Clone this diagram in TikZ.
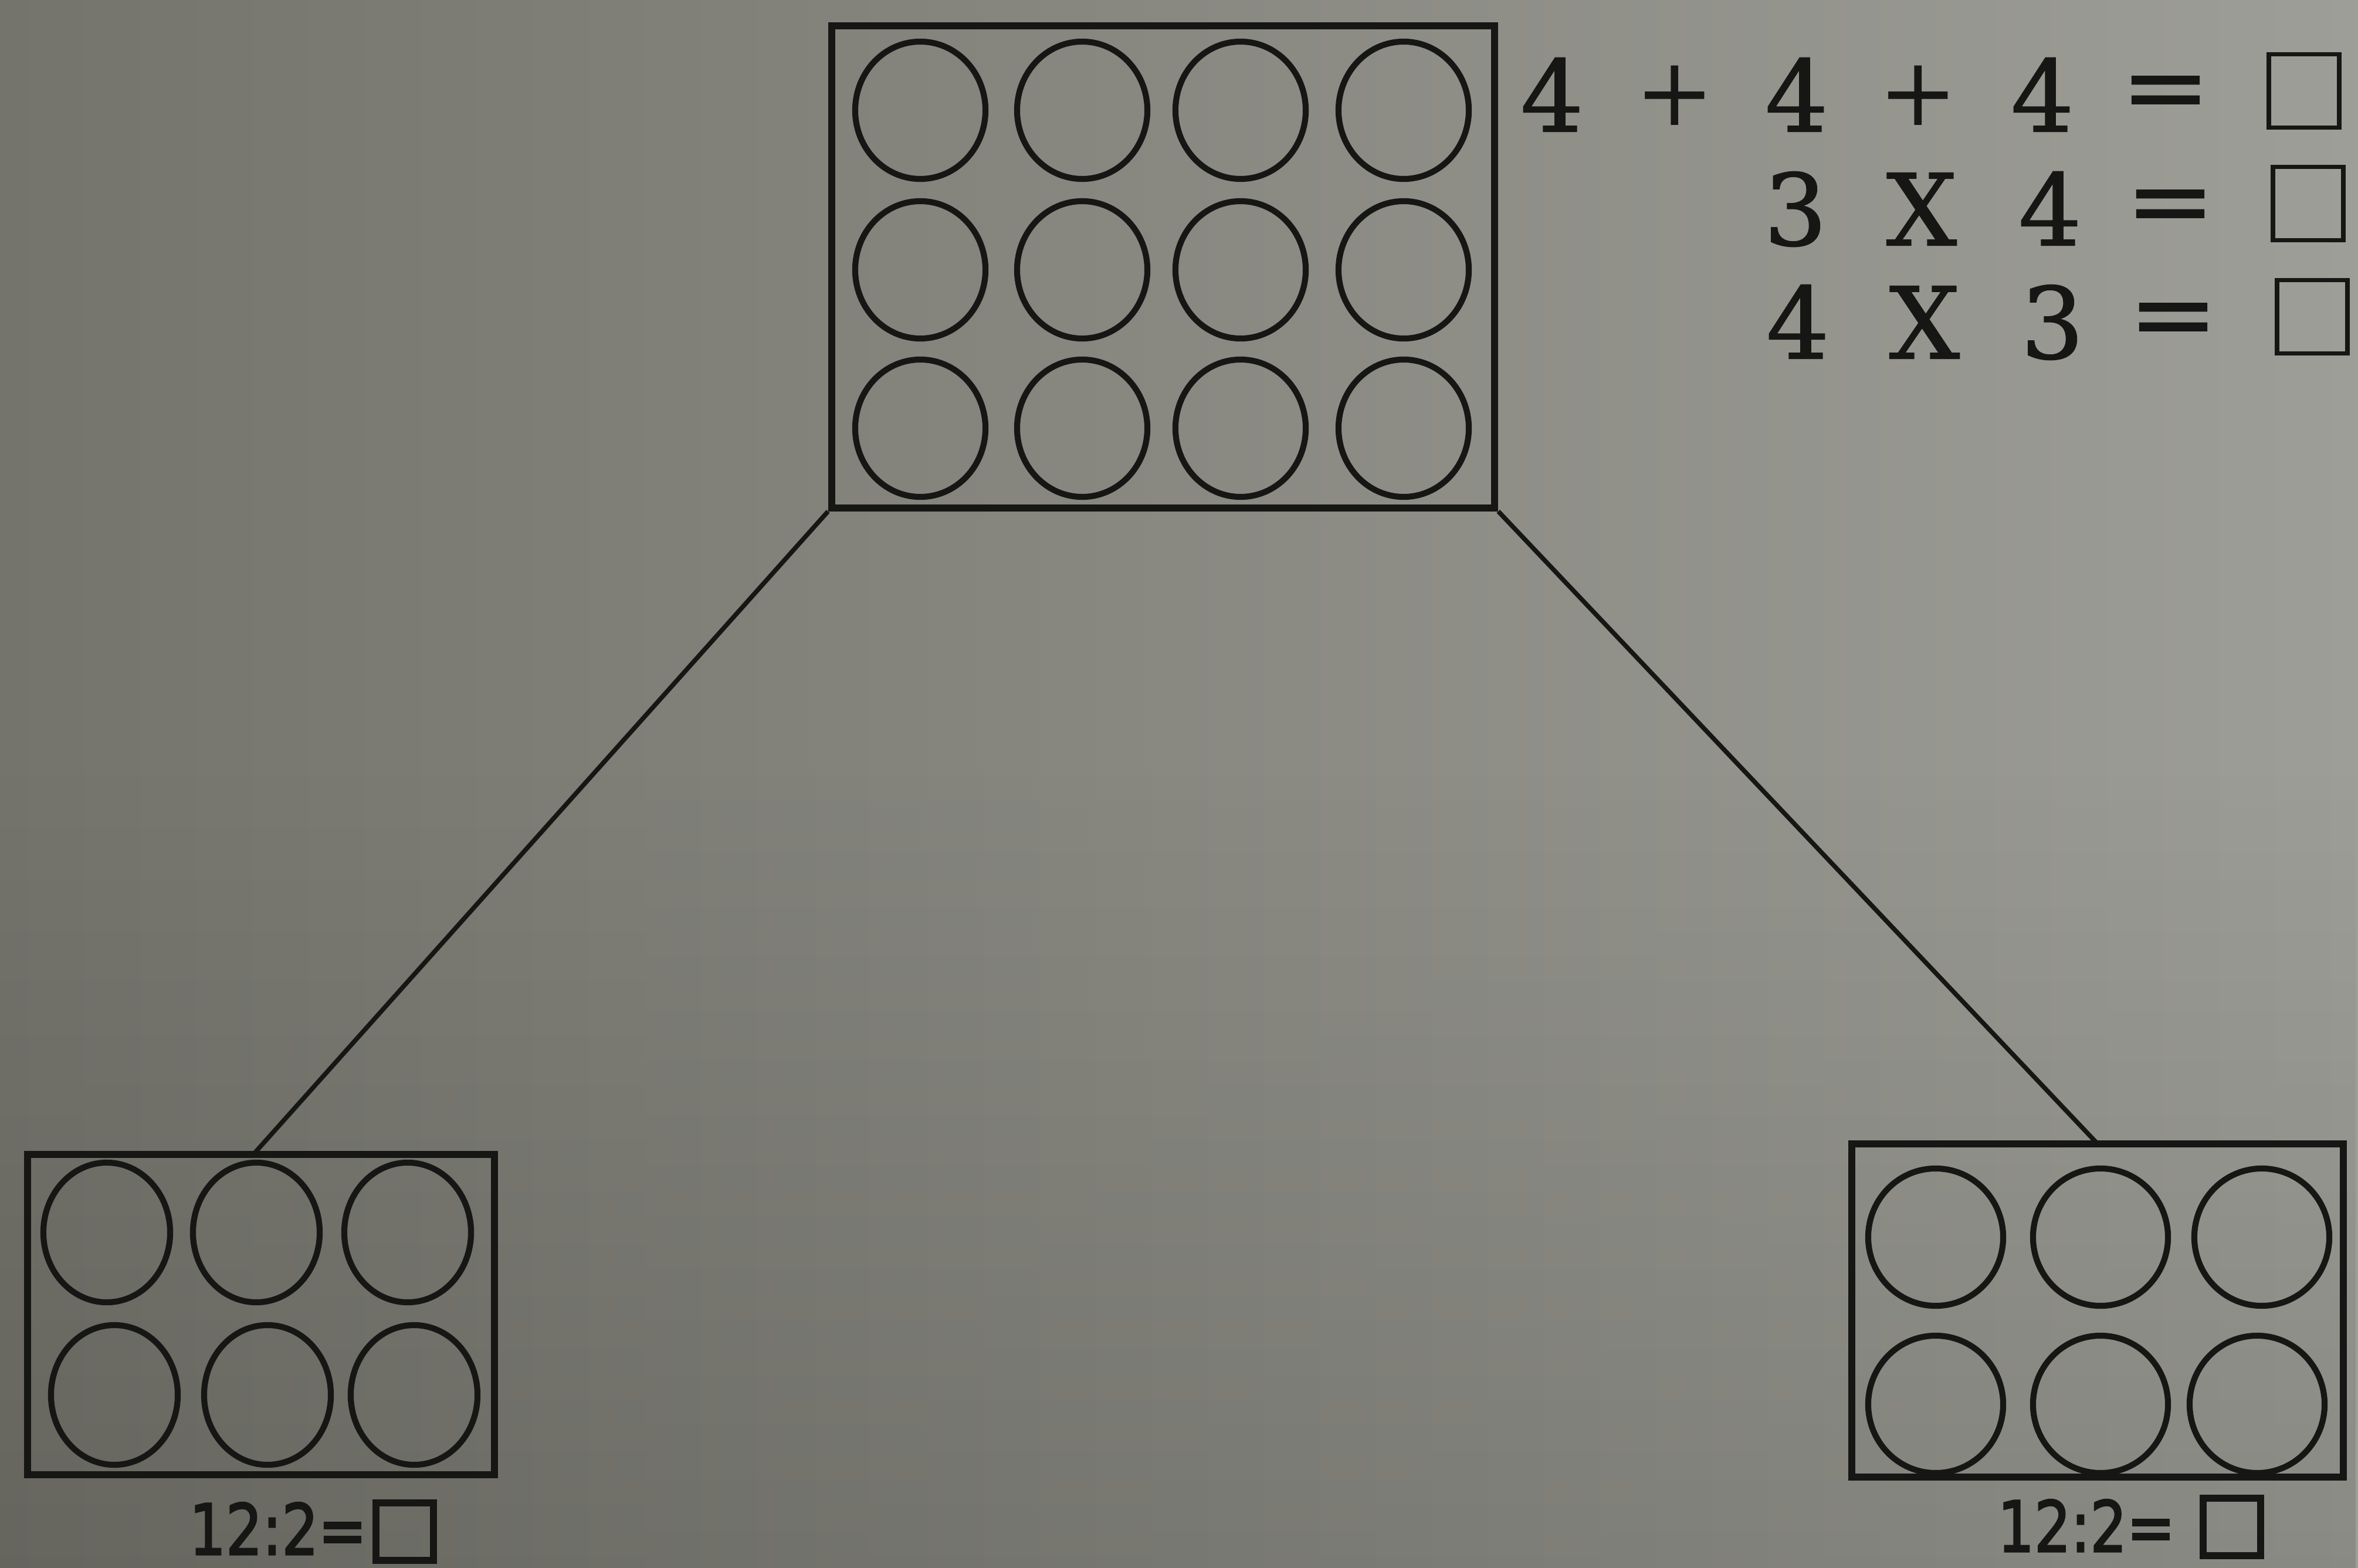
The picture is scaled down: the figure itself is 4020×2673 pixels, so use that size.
\documentclass[tikz,border=0pt]{standalone}
\usepackage{fontspec}
\newfontfamily\eqfont{DejaVu Serif}[FakeBold=1.2]
\newfontfamily\plusfont{DejaVu Serif}
\newfontfamily\handfont{DejaVu Sans}[FakeBold=2.5]
\usetikzlibrary{fadings}
\definecolor{bgL}{RGB}{116,116,108}
\definecolor{bgR}{RGB}{158,158,152}
\definecolor{ink}{RGB}{22,22,20}
\newcommand{\upeq}{\raisebox{5pt}{\scalebox{1.08}[1]{=}}}
\begin{document}
\begin{tikzpicture}[x=0.01cm,y=-0.01cm,
  tray/.style={draw=ink, rectangle, inner sep=0pt, line width=3.4pt},
  dot/.style={draw=ink, line width=2.9pt},
  link/.style={draw=ink, line width=2.2pt},
  eq/.style={anchor=base, inner sep=0pt, font=\eqfont\fontsize{48}{48}\selectfont, text=ink},
  pl/.style={anchor=base, inner sep=0pt, font=\plusfont\fontsize{46}{46}\selectfont, text=ink},
  ansbox/.style={draw=ink, line width=2.2pt, inner sep=0pt, minimum width=1.2cm, minimum height=1.25cm},
  hand/.style={anchor=base west, inner sep=0pt, text depth=0pt, font=\handfont\fontsize{34}{34}\selectfont, text=ink},
  handbox/.style={draw=ink, line width=3.2pt, inner sep=0pt, minimum width=0.98cm, minimum height=0.98cm}]
% background
\useasboundingbox (0,0) rectangle (4020,2673);
\fill[left color=bgL, right color=bgR] (0,0) rectangle (4020,2673);
\fill[black, opacity=0.12, path fading=north] (0,1300) rectangle (4020,2673);

% trays
\node[tray, minimum width=11.3cm, minimum height=8.21cm] (top) at (1983,455) {};
\node[tray, minimum width=7.96cm, minimum height=5.45cm] (lbox) at (445,2241) {};
\node[tray, minimum width=8.37cm, minimum height=5.68cm] (rbox) at (3576,2234) {};

% counters
\foreach \cx in {1569,1845,2115,2393}
  \foreach \cy in {188,460,730}
    \draw[dot] (\cx,\cy) ellipse [x radius=1.11cm, y radius=1.17cm];
\foreach \cx/\cy in {182/2101,437/2101,695/2101,195/2378,456/2378,706/2378}
  \draw[dot] (\cx,\cy) ellipse [x radius=1.08cm, y radius=1.19cm];
\foreach \cx/\cy in {3300/2109,3581/2109,3856/2109,3300/2394,3581/2394,3848/2394}
  \draw[dot] (\cx,\cy) ellipse [x radius=1.15cm, y radius=1.17cm];

% connectors
\coordinate (lin) at (431,1969);
\coordinate (rin) at (3578,1952);
\draw[link] (top.south west) -- (lin);
\draw[link] (top.south east) -- (rin);

% equations
\node[eq] (a1) at (2646,224) {4};
\node[pl] (a2) at (2855,214) {+};
\node[eq] (a3) at (3063,224) {4};
\node[pl] (a4) at (3270,214) {+};
\node[eq] (a5) at (3482,224) {4};
\node[eq] (a6) at (3692,224) {\upeq};
\node[ansbox] (a7) at (3928,155) {};

\node[eq] (b1) at (3061,418) {3};
\node[eq] (b2) at (3276,418) {X};
\node[eq] (b3) at (3495,418) {4};
\node[eq] (b4) at (3700,418) {\upeq};
\node[ansbox] (b5) at (3935,347) {};

\node[eq] (c1) at (3065,611) {4};
\node[eq] (c2) at (3281,611) {X};
\node[eq] (c3) at (3499,611) {3};
\node[eq] (c4) at (3705,611) {\upeq};
\node[ansbox] (c5) at (3942,540) {};

% handwritten labels
\node[hand] (lt) at (322,2650) {\scalebox{0.82}[1]{12:2=}};
\node[handbox] (lq) at (690,2611) {};
\node[hand] (rt) at (3405,2645) {\scalebox{0.82}[1]{12:2=}};
\node[handbox] (rq) at (3805,2603) {};
\end{tikzpicture}
\end{document}
